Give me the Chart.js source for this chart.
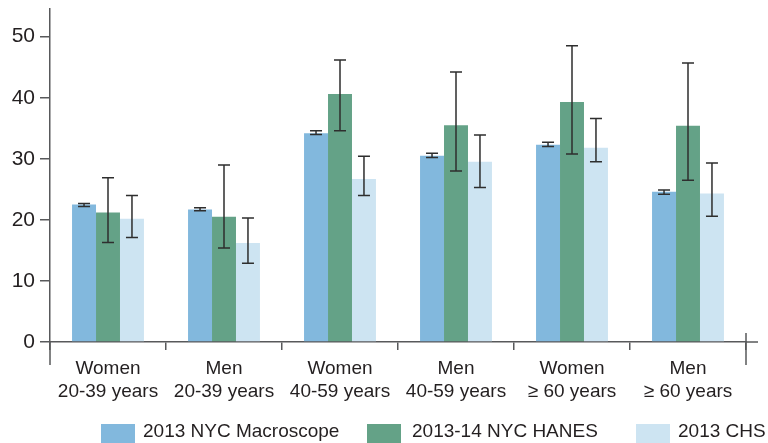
<!DOCTYPE html>
<html>
<head>
<meta charset="utf-8">
<script src="https://cdn.jsdelivr.net/npm/chart.js@4"></script>
<style>
  html, body { margin: 0; padding: 0; background: #fff; }
  #wrap { position: relative; width: 768px; height: 443px; overflow: hidden; }
  #legend { position: absolute; left: 0; top: 0; width: 768px; height: 443px; pointer-events: none; }
  .lg-box { position: absolute; top: 424px; width: 34px; height: 19px; }
  .lg-text { position: absolute; top: 421px; font-family: "Liberation Sans", Arial, sans-serif;
             font-size: 19px; line-height: 20px; color: #231f20; white-space: nowrap; }
</style>
</head>
<body>
<div id="wrap">
  <canvas id="c" width="768" height="443"></canvas>
  <div id="legend"></div>
</div>
<script>
// Group labels (two lines each)
const categories = [
  ['Women', '20-39 years'],
  ['Men', '20-39 years'],
  ['Women', '40-59 years'],
  ['Men', '40-59 years'],
  ['Women', '\u2265 60 years'],
  ['Men', '\u2265 60 years']
];

const seriesNames = ['2013 NYC Macroscope', '2013-14 NYC HANES', '2013 CHS'];

// Estimates with lower / upper confidence limits
const macroscope     = [22.5, 21.7, 34.2, 30.5, 32.3, 24.6];
const macroscopeLow  = [22.2, 21.5, 34.0, 30.2, 32.0, 24.2];
const macroscopeHigh = [22.7, 22.0, 34.6, 30.9, 32.7, 24.9];

const hanes     = [21.2, 20.5, 40.6, 35.5, 39.3, 35.4];
const hanesLow  = [16.3, 15.4, 34.6, 28.0, 30.8, 26.5];
const hanesHigh = [26.9, 29.0, 46.2, 44.2, 48.5, 45.7];

const chs     = [20.2, 16.2, 26.7, 29.5, 31.8, 24.3];
const chsLow  = [17.1, 12.9, 24.0, 25.3, 29.5, 20.6];
const chsHigh = [24.0, 20.3, 30.4, 33.9, 36.6, 29.3];

const yTicks = [0, 10, 20, 30, 40, 50];

const colors = ['#82b8dd', '#64a287', '#cde4f2'];
const axisColor = '#58595b';
const textColor = '#231f20';

// Whiskers for each bar, drawn from the low/high arrays through the y scale
const errorBars = {
  id: 'errorBars',
  afterDatasetsDraw(chart) {
    const ctx = chart.ctx;
    const y = chart.scales.y;
    ctx.save();
    ctx.strokeStyle = '#2e2e2e';
    ctx.lineWidth = 1.5;
    chart.data.datasets.forEach((ds, i) => {
      const meta = chart.getDatasetMeta(i);
      meta.data.forEach((bar, j) => {
        const x = bar.x;
        const lo = y.getPixelForValue(ds.errLow[j]);
        const hi = y.getPixelForValue(ds.errHigh[j]);
        ctx.beginPath();
        ctx.moveTo(x, lo); ctx.lineTo(x, hi);
        ctx.moveTo(x - 6, lo); ctx.lineTo(x + 6, lo);
        ctx.moveTo(x - 6, hi); ctx.lineTo(x + 6, hi);
        ctx.stroke();
      });
    });
    ctx.restore();
  }
};

// Axis extensions below and right of the plot frame
const axisFrame = {
  id: 'axisFrame',
  afterDraw(chart) {
    const { ctx, chartArea } = chart;
    ctx.save();
    ctx.strokeStyle = axisColor;
    ctx.lineWidth = 1.5;
    ctx.beginPath();
    ctx.moveTo(chartArea.left, chartArea.bottom);
    ctx.lineTo(chartArea.left, chartArea.bottom + 23);
    ctx.moveTo(chartArea.right, chartArea.bottom - 9);
    ctx.lineTo(chartArea.right, chartArea.bottom + 23);
    ctx.moveTo(chartArea.right, chartArea.bottom);
    ctx.lineTo(chartArea.right + 12, chartArea.bottom);
    ctx.stroke();
    ctx.restore();
  }
};

const values = [macroscope, hanes, chs];
const lows = [macroscopeLow, hanesLow, chsLow];
const highs = [macroscopeHigh, hanesHigh, chsHigh];

const datasets = seriesNames.map((name, i) => ({
  label: name,
  data: values[i],
  errLow: lows[i],
  errHigh: highs[i],
  backgroundColor: colors[i],
  borderWidth: 0,
  barPercentage: 1.0,
  categoryPercentage: 0.62
}));

new Chart(document.getElementById('c'), {
  type: 'bar',
  data: { labels: categories, datasets },
  options: {
    responsive: false,
    animation: false,
    layout: { padding: { top: 0, right: 22, bottom: 41, left: 0 } },
    plugins: { legend: { display: false }, tooltip: { enabled: false } },
    scales: {
      x: {
        afterFit(scale) { scale.height = 60; },
        grid: { display: true, offset: true, drawOnChartArea: false, drawTicks: true,
                tickLength: 8, color: axisColor, lineWidth: 1.5 },
        border: { display: true, color: axisColor, width: 1.5 },
        ticks: { color: textColor, padding: 7, maxRotation: 0, autoSkip: false,
                 font: { family: '"Liberation Sans", Arial, sans-serif', size: 19, lineHeight: 1.21 } }
      },
      y: {
        min: 0,
        max: 54.5,
        afterFit(scale) { scale.width = 50; },
        afterBuildTicks(scale) { scale.ticks = yTicks.map(v => ({ value: v })); },
        grid: { display: true, drawOnChartArea: false, drawTicks: true,
                tickLength: 10, color: axisColor, lineWidth: 1.5 },
        border: { display: true, color: axisColor, width: 1.5 },
        ticks: { color: textColor, padding: 5,
                 font: { family: '"Liberation Sans", Arial, sans-serif', size: 21, lineHeight: 0.4 } }
      }
    }
  },
  plugins: [errorBars, axisFrame]
});

// Legend row
const legendBoxX = [101, 367, 636];
const legendTextX = [143, 412, 678];
const legend = document.getElementById('legend');
seriesNames.forEach((name, i) => {
  const box = document.createElement('div');
  box.className = 'lg-box';
  box.style.left = legendBoxX[i] + 'px';
  box.style.background = colors[i];
  legend.appendChild(box);
  const txt = document.createElement('div');
  txt.className = 'lg-text';
  txt.style.left = legendTextX[i] + 'px';
  txt.textContent = name;
  legend.appendChild(txt);
});
</script>
</body>
</html>
